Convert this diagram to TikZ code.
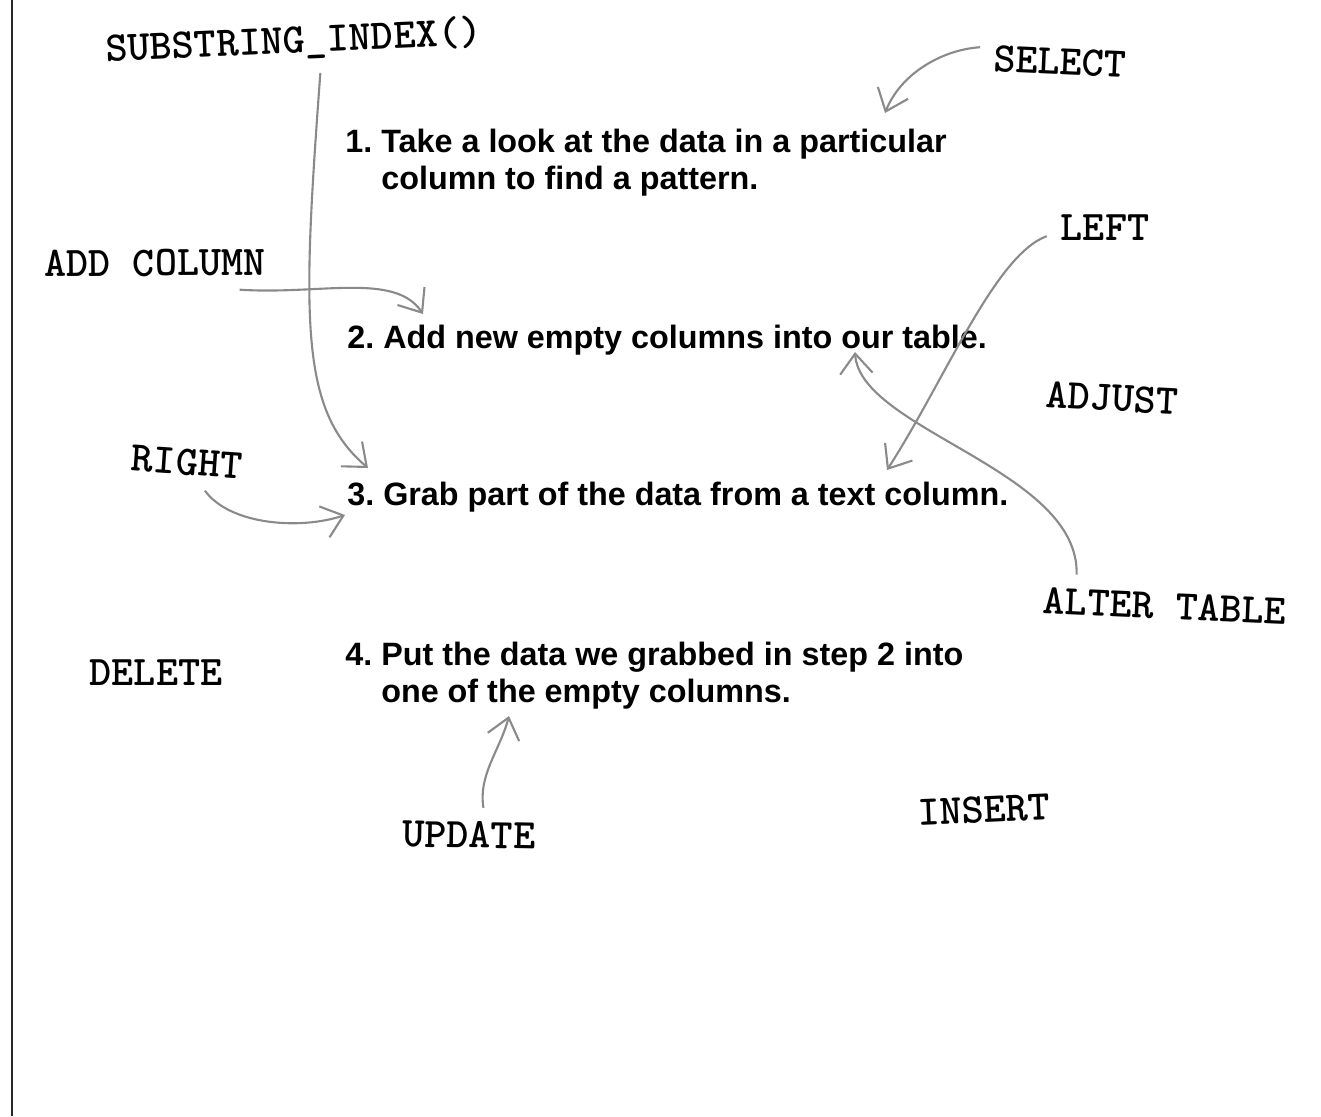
\documentclass[tikz,border=0pt]{standalone}
\usepackage{fontspec}
\setmainfont{Liberation Sans}
\usepackage{xcolor}
\usepackage{tikz}
\usetikzlibrary{arrows.meta}
\definecolor{penline}{HTML}{8A8A8A}
\definecolor{frameline}{HTML}{262626}
\newcommand{\stepline}[3]{\begin{tabular}[t]{@{}l@{\ }l@{}}#1 & #2\\ & #3\end{tabular}}

\begin{document}
\begin{tikzpicture}[
    x=0.02cm,y=-0.02cm,
    kw/.style      = {font=\ttfamily\bfseries\fontsize{24}{26}\selectfont,
                      inner sep=3pt,outer sep=5pt},
    stepbox/.style = {anchor=base west,inner sep=0pt,
                      font=\bfseries\fontsize{18.4}{21.5}\selectfont},
    pen/.style     = {-{Straight Barb[length=4mm,width=6.5mm]},penline,
                      line width=1.2pt},
  ]
  \useasboundingbox (0,0) rectangle (1321,1116);
  \draw[frameline,line width=1.7pt] (12,0) -- (12,1116);

  % the four steps
  \node[stepbox] (s1) at (345,152) {\stepline{1.}{Take a look at the data in a particular}{column to find a pattern.}};
  \node[stepbox] (s2) at (347,348) {\stepline{2.}{Add new empty columns into our table.}{}};
  \node[stepbox] (s3) at (347,505) {\stepline{3.}{Grab part of the data from a text column.}{}};
  \node[stepbox] (s4) at (345,665) {\stepline{4.}{Put the data we grabbed in step 2 into}{one of the empty columns.}};

  % SQL keywords
  \node[kw,rotate=2.5]  (sub)  at (294,42)   {SUBSTRING\_INDEX()};
  \node[kw,rotate=-2.5] (sel)  at (1060,62)  {SELECT};
  \node[kw,rotate=0.5]  (addc) at (155,263)  {ADD COLUMN};
  \node[kw]             (lft)  at (1105,228) {LEFT};
  \node[kw,rotate=-3]   (adj)  at (1112,398) {ADJUST};
  \node[kw,rotate=-4]   (rgt)  at (187,462)  {RIGHT};
  \node[kw,rotate=-2.5] (alt)  at (1165,606) {ALTER TABLE};
  \node[kw]             (del)  at (156,673)  {DELETE};
  \node[kw,rotate=-1]   (upd)  at (469,835)  {UPDATE};
  \node[kw,rotate=2.5]  (ins)  at (984,810)  {INSERT};

  % arrow tips
  \coordinate (selTip) at (885,113);
  \coordinate (subTip) at (368,468);
  \coordinate (addTip) at (423,314);
  \coordinate (lftTip) at (887,470);
  \coordinate (altTip) at (855,352);
  \coordinate (rgtTip) at (345,515);
  \coordinate (updTip) at (509,716);

  \draw[pen] (sel.172)  .. controls (940,50)  and (900,75)  .. (selTip);
  \draw[pen] (sub.-52)  .. controls (302,320) and (300,410) .. (subTip);
  \draw[pen] (addc.-18) .. controls (320,295) and (395,272) .. (addTip);
  \draw[pen] (lft.188)  .. controls (995,255) and (945,380) .. (lftTip);
  \draw[pen] (alt.163)  .. controls (1080,470) and (860,430) .. (altTip);
  \draw[pen] (rgt.-54)  .. controls (230,525) and (300,530) .. (rgtTip);
  \draw[pen] (upd.63)   .. controls (478,775) and (500,750) .. (updTip);

\end{tikzpicture}
\end{document}
